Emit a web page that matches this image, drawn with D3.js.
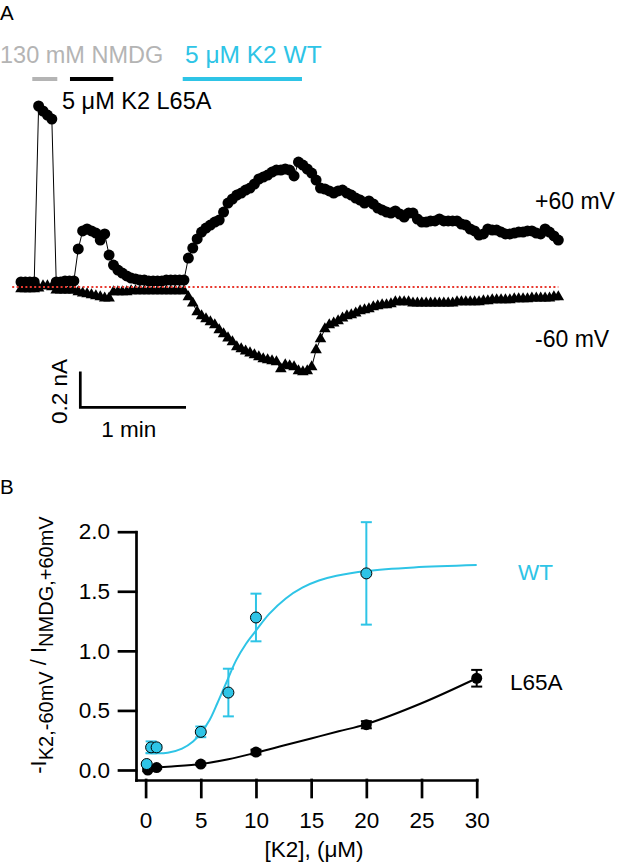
<!DOCTYPE html>
<html>
<head>
<meta charset="utf-8">
<script src="https://cdn.jsdelivr.net/npm/d3@7"></script>
<style>
  html, body { margin: 0; padding: 0; background: #fff; }
  svg { display: block; font-family: "Liberation Sans", Arial, sans-serif; }
</style>
</head>
<body>
<div id="chart"></div>
<script>
// ---- Panel A: current time course (nA), one sample every 2.5 s ----
const sampleInterval = 2.5;
const currentPos60 = [
  0.028, 0.028, 0.028, 0.028, 1.014, 0.986, 0.963, 0.941, 0.028, 0.028,
  0.034, 0.034, 0.034, 0.213, 0.314, 0.325, 0.314, 0.302, 0.263, 0.297,
  0.179, 0.123, 0.095, 0.078, 0.062, 0.050, 0.045, 0.039, 0.039, 0.034,
  0.034, 0.034, 0.034, 0.039, 0.039, 0.039, 0.039, 0.039, 0.162, 0.218,
  0.269, 0.308, 0.330, 0.347, 0.364, 0.375, 0.420, 0.470, 0.493, 0.515,
  0.526, 0.543, 0.554, 0.577, 0.605, 0.616, 0.627, 0.644, 0.655, 0.655,
  0.661, 0.655, 0.622, 0.700, 0.683, 0.661, 0.638, 0.599, 0.554, 0.549,
  0.538, 0.526, 0.538, 0.543, 0.526, 0.515, 0.498, 0.487, 0.470, 0.482,
  0.465, 0.442, 0.431, 0.420, 0.414, 0.426, 0.409, 0.392, 0.414, 0.414,
  0.381, 0.364, 0.364, 0.370, 0.370, 0.381, 0.370, 0.370, 0.370, 0.370,
  0.353, 0.347, 0.325, 0.314, 0.291, 0.297, 0.325, 0.319, 0.319, 0.308,
  0.297, 0.297, 0.302, 0.308, 0.308, 0.314, 0.314, 0.302, 0.297, 0.325,
  0.308, 0.286, 0.263
];
const currentNeg60 = [
  -0.011, -0.011, -0.011, -0.011, -0.006, 0.006, 0.006, 0.000, -0.017, -0.017,
  -0.017, -0.017, -0.017, -0.028, -0.034, -0.039, -0.045, -0.050, -0.056, -0.062,
  -0.062, -0.028, -0.028, -0.028, -0.028, -0.022, -0.022, -0.022, -0.022, -0.022,
  -0.022, -0.022, -0.022, -0.022, -0.022, -0.022, -0.022, -0.022, -0.056, -0.090,
  -0.140, -0.162, -0.179, -0.196, -0.213, -0.241, -0.263, -0.286, -0.308, -0.336,
  -0.347, -0.359, -0.370, -0.381, -0.392, -0.403, -0.409, -0.414, -0.420, -0.459,
  -0.437, -0.442, -0.448, -0.470, -0.476, -0.470, -0.448, -0.353, -0.291, -0.235,
  -0.213, -0.202, -0.190, -0.174, -0.162, -0.157, -0.146, -0.134, -0.129, -0.123,
  -0.112, -0.106, -0.101, -0.101, -0.095, -0.084, -0.084, -0.084, -0.084, -0.090,
  -0.090, -0.090, -0.090, -0.090, -0.090, -0.090, -0.090, -0.090, -0.090, -0.084,
  -0.084, -0.084, -0.084, -0.084, -0.084, -0.078, -0.078, -0.073, -0.073, -0.073,
  -0.073, -0.073, -0.067, -0.067, -0.067, -0.067, -0.062, -0.062, -0.062, -0.062,
  -0.062, -0.056, -0.056
];
// solution application periods (s)
const appLabels = ["130 mM NMDG", "5 μM K2 L65A", "5 μM K2 WT"];
const appStart = [6.4, 27.8, 91.8];
const appEnd = [20.6, 52.4, 159.5];

// ---- Panel B: dose response ----
const wtConc = [0.1, 0.5, 1, 5, 7.5, 10, 20];
const wtMean = [0.05, 0.19, 0.19, 0.32, 0.65, 1.28, 1.65];
const wtSem = [0.01, 0.05, 0.02, 0.045, 0.2, 0.2, 0.43];
const l65Conc = [0.2, 1, 5, 10, 20, 30];
const l65Mean = [0.0, 0.02, 0.05, 0.15, 0.38, 0.77];
const l65Sem = [0.01, 0.01, 0.01, 0.02, 0.03, 0.07];
// fitted curves
const wtFitX = [0, 1, 2, 3.3, 4.3, 5, 5.8, 6.5, 7.3, 8.2, 9.1, 10, 11.2, 12.7, 14.2, 15.7, 17.3, 20, 24.3, 30];
const wtFitY = [0.145, 0.14, 0.145, 0.18, 0.24, 0.31, 0.42, 0.56, 0.73, 0.92, 1.06, 1.17, 1.31, 1.44, 1.53, 1.59, 1.63, 1.67, 1.70, 1.72];
const l65FitX = [0, 2, 5, 7.5, 10, 12.5, 15, 17.5, 20, 25, 30];
const l65FitY = [0.014, 0.028, 0.05, 0.09, 0.145, 0.205, 0.265, 0.325, 0.385, 0.56, 0.77];
const xTicksB = [0, 5, 10, 15, 20, 25, 30];
const yTicksB = [0, 0.5, 1.0, 1.5, 2.0];

const W = 617, H = 868;
const cyan = "#2ec4e6", gray = "#b4b4b4", red = "#e8392f";
const fs = 22.5;

const svg = d3.select("#chart").append("svg")
  .attr("width", W).attr("height", H)
  .attr("viewBox", [0, 0, W, H]);

// ================= Panel A =================
const xA = d3.scaleLinear().domain([0, 60]).range([21, 126.7]);
const yA = d3.scaleLinear().domain([0, 0.2]).range([287, 251.3]);

const toPts = (vals) => vals.map((v, i) => [i * sampleInterval, v]);
const pos = toPts(currentPos60);
const neg = toPts(currentNeg60);
const lineA = d3.line().x((d) => xA(d[0])).y((d) => yA(d[1]));

const gA = svg.append("g");
gA.append("text").attr("x", 0).attr("y", 19.5).attr("font-size", 20.5).text("A");

gA.selectAll(".trace")
  .data([neg, pos])
  .join("path")
  .attr("fill", "none")
  .attr("stroke", "#000")
  .attr("stroke-width", 1)
  .attr("d", lineA);

gA.append("g")
  .selectAll("path")
  .data(neg)
  .join("path")
  .attr("d", d3.symbol(d3.symbolTriangle, 58))
  .attr("transform", (d) => `translate(${xA(d[0])},${yA(d[1])})`)
  .attr("fill", "#000");

gA.append("g")
  .selectAll("circle")
  .data(pos)
  .join("circle")
  .attr("cx", (d) => xA(d[0]))
  .attr("cy", (d) => yA(d[1]))
  .attr("r", 5.5)
  .attr("fill", "#000");

// zero current reference
gA.append("line")
  .attr("x1", xA(-5)).attr("x2", xA(305))
  .attr("y1", yA(0)).attr("y2", yA(0))
  .attr("stroke", red)
  .attr("stroke-width", 2)
  .attr("stroke-dasharray", "2,2.4");

// application bars
const appColors = [gray, "#000", cyan];
gA.selectAll(".app")
  .data(appStart)
  .join("line")
  .attr("x1", (d) => xA(d))
  .attr("x2", (d, i) => xA(appEnd[i]))
  .attr("y1", 79).attr("y2", 79)
  .attr("stroke", (d, i) => appColors[i])
  .attr("stroke-width", 4);

const appLabelPos = [[0, 63], [62, 108.5], [185, 63]];
const appLabelSize = [23.5, 23.5, 24.5];
gA.selectAll(".applabel")
  .data(appLabels)
  .join("text")
  .attr("x", (d, i) => appLabelPos[i][0])
  .attr("y", (d, i) => appLabelPos[i][1])
  .attr("font-size", (d, i) => appLabelSize[i])
  .attr("fill", (d, i) => appColors[i])
  .text((d) => d);

gA.append("text").attr("x", 535).attr("y", 208.5).attr("font-size", 23).text("+60 mV");
gA.append("text").attr("x", 535).attr("y", 346.5).attr("font-size", 23).text("-60 mV");

// scale bar: 1 min, 0.2 nA
const sb = { x: 80.3, y: 407.3 };
const sbW = xA(60) - xA(0);
const sbH = yA(0) - yA(0.2);
gA.append("path")
  .attr("d", `M${sb.x},${sb.y - sbH}V${sb.y}H${sb.x + sbW}`)
  .attr("fill", "none")
  .attr("stroke", "#000")
  .attr("stroke-width", 2.7);
gA.append("text")
  .attr("transform", `translate(66.5,${sb.y - sbH / 2 + 2})rotate(-90)`)
  .attr("text-anchor", "middle")
  .attr("font-size", fs)
  .text("0.2 nA");
gA.append("text")
  .attr("x", sb.x + sbW / 2 - 4.5)
  .attr("y", 436.5)
  .attr("text-anchor", "middle")
  .attr("font-size", fs)
  .text("1 min");

// ================= Panel B =================
const xB = d3.scaleLinear().domain([-0.87, 30]).range([136, 476.7]);
const yB = d3.scaleLinear().domain([-0.084, 2.0]).range([780, 531.7]);

const gB = svg.append("g");
gB.append("text").attr("x", 0).attr("y", 493.5).attr("font-size", 20.5).text("B");

gB.append("g")
  .attr("transform", "translate(0,780)")
  .call(d3.axisBottom(xB).tickValues(xTicksB).tickFormat(d3.format("d"))
    .tickSize(17).tickPadding(15).tickSizeOuter(0))
  .attr("font-size", null)
  .attr("font-family", null)
  .call((g) => g.selectAll("path, line").attr("stroke-width", 2.7).attr("stroke-linecap", "square"))
  .call((g) => g.selectAll("text").attr("font-size", fs).attr("fill", "#000"));

gB.append("g")
  .attr("transform", "translate(136,0)")
  .call(d3.axisLeft(yB).tickValues(yTicksB).tickFormat(d3.format(".1f"))
    .tickSize(17).tickPadding(9).tickSizeOuter(0))
  .attr("font-size", null)
  .attr("font-family", null)
  .call((g) => g.selectAll("path, line").attr("stroke-width", 2.7).attr("stroke-linecap", "square"))
  .call((g) => g.selectAll("text").attr("font-size", fs).attr("fill", "#000"));

// y axis title with subscripts
const yTitle = gB.append("text")
  .attr("transform", "translate(46,645)rotate(-90)")
  .attr("text-anchor", "middle")
  .attr("font-size", 22);
yTitle.append("tspan").text("-I");
yTitle.append("tspan").attr("dy", 7).attr("font-size", 20).text("K2,-60mV");
yTitle.append("tspan").attr("dy", -7).text(" / I");
yTitle.append("tspan").attr("dy", 7).attr("font-size", 20).text("NMDG,+60mV");

gB.append("text")
  .attr("x", 314).attr("y", 857)
  .attr("text-anchor", "middle")
  .attr("font-size", fs)
  .text("[K2], (μM)");

function errorBars(xs, ms, es, color) {
  const g = gB.append("g").attr("stroke", color).attr("stroke-width", 2);
  const rows = xs.map((x, i) => ({ x, m: ms[i], e: es[i] }));
  g.selectAll(".v").data(rows).join("line")
    .attr("x1", (d) => xB(d.x)).attr("x2", (d) => xB(d.x))
    .attr("y1", (d) => yB(d.m - d.e)).attr("y2", (d) => yB(d.m + d.e));
  [-1, 1].forEach((s) => {
    g.selectAll(".c" + s).data(rows).join("line")
      .attr("x1", (d) => xB(d.x) - 5.5).attr("x2", (d) => xB(d.x) + 5.5)
      .attr("y1", (d) => yB(d.m + s * d.e)).attr("y2", (d) => yB(d.m + s * d.e));
  });
}
errorBars(wtConc, wtMean, wtSem, cyan);
errorBars(l65Conc, l65Mean, l65Sem, "#000");

const fitLine = d3.line().x((d) => xB(d[0])).y((d) => yB(d[1])).curve(d3.curveCatmullRom.alpha(0.5));
gB.append("path")
  .datum(l65FitX.map((x, i) => [x, l65FitY[i]]))
  .attr("d", fitLine)
  .attr("fill", "none").attr("stroke", "#000").attr("stroke-width", 2);
gB.append("path")
  .datum(wtFitX.map((x, i) => [x, wtFitY[i]]))
  .attr("d", fitLine)
  .attr("fill", "none").attr("stroke", cyan).attr("stroke-width", 2);

gB.append("g").selectAll("circle")
  .data(l65Conc)
  .join("circle")
  .attr("cx", (d) => xB(d))
  .attr("cy", (d, i) => yB(l65Mean[i]))
  .attr("r", 5.5)
  .attr("fill", "#000");
gB.append("g").selectAll("circle")
  .data(wtConc)
  .join("circle")
  .attr("cx", (d) => xB(d))
  .attr("cy", (d, i) => yB(wtMean[i]))
  .attr("r", 5.5)
  .attr("fill", cyan)
  .attr("stroke", "#000")
  .attr("stroke-width", 1);

gB.append("text").attr("x", 518).attr("y", 580).attr("font-size", fs).attr("fill", cyan).text("WT");
gB.append("text").attr("x", 510).attr("y", 689.5).attr("font-size", fs).text("L65A");
</script>
</body>
</html>
